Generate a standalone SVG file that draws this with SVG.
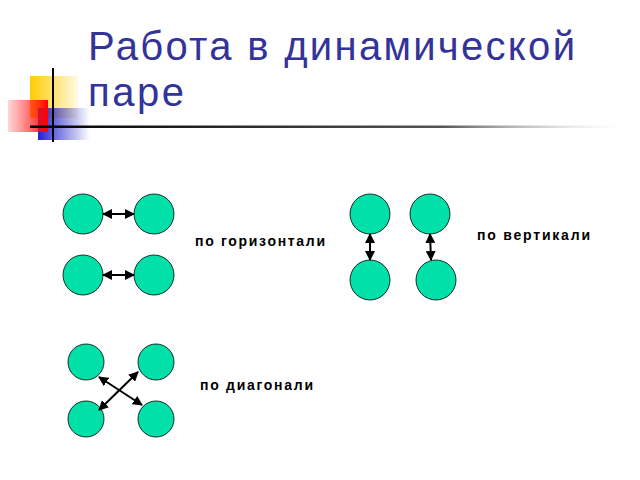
<svg xmlns="http://www.w3.org/2000/svg" width="640" height="480" viewBox="0 0 640 480">
<defs>
<linearGradient id="gy" x1="0" x2="1"><stop offset="0" stop-color="#ffcc00"/><stop offset="1" stop-color="#ffcc00" stop-opacity="0.1"/></linearGradient>
<linearGradient id="gr" x1="0" x2="1"><stop offset="0" stop-color="#ff3333" stop-opacity="0.2"/><stop offset="1" stop-color="#ff0000"/></linearGradient>
<linearGradient id="gb" x1="0" x2="1"><stop offset="0" stop-color="#2222cc"/><stop offset="1" stop-color="#2222cc" stop-opacity="0"/></linearGradient>
<linearGradient id="gl" x1="0" x2="1"><stop offset="0" stop-color="#000"/><stop offset="0.7" stop-color="#555"/><stop offset="1" stop-color="#ccc" stop-opacity="0"/></linearGradient>
<marker id="a" viewBox="0 0 10 10" refX="9" refY="5" markerWidth="5" markerHeight="5" orient="auto-start-reverse"><path d="M0,0L10,5L0,10z" fill="#000"/></marker>
</defs>
<style>
.c{fill:#00e0a8;stroke:#000;stroke-width:0.8}
.t{font-family:"Liberation Sans",Arial,sans-serif;font-size:14px;font-weight:bold;fill:#000}
.k{stroke:#000;stroke-width:2;fill:none;marker-start:url(#a);marker-end:url(#a)}
</style>
<rect x="30" y="76" width="48" height="42" fill="url(#gy)"/>
<rect x="38" y="108" width="52" height="32" fill="url(#gb)"/>
<rect x="8" y="100" width="40" height="32" fill="url(#gr)"/>
<line x1="53" y1="68" x2="53" y2="142" stroke="#000" stroke-width="2"/>
<rect x="30" y="125.5" width="590" height="2.5" fill="url(#gl)"/>
<g id="title" font-family="'Liberation Sans',Arial,sans-serif" font-size="40" fill="#333399">
<text x="88" y="60" textLength="487" lengthAdjust="spacing">Работа в динамической</text>
<text x="88" y="106" textLength="96" lengthAdjust="spacing">паре</text>
</g>
<g id="horiz"><circle class="c" cx="83" cy="214" r="20"/><circle class="c" cx="154" cy="214" r="20"/><circle class="c" cx="83" cy="275" r="20"/><circle class="c" cx="154" cy="275" r="20"/><text class="t" x="195" y="246" textLength="130">по горизонтали</text></g>
<g id="vert"><circle class="c" cx="370" cy="214" r="20"/><circle class="c" cx="430" cy="214" r="20"/><circle class="c" cx="370" cy="280" r="20"/><circle class="c" cx="436" cy="280" r="20"/><text class="t" x="477" y="240" textLength="113">по вертикали</text></g>
<g id="diag"><circle class="c" cx="86" cy="362" r="18"/><circle class="c" cx="156" cy="362" r="18"/><circle class="c" cx="86" cy="419" r="18"/><circle class="c" cx="156" cy="419" r="18"/><text class="t" x="200" y="390" textLength="113">по диагонали</text></g>
<g id="connectors">
<line class="k" x1="103" y1="214" x2="134" y2="214"/>
<line class="k" x1="103" y1="275" x2="134" y2="275"/>
<line class="k" x1="370" y1="234" x2="370" y2="260"/>
<line class="k" x1="430" y1="234" x2="431" y2="260"/>
<line class="k" x1="99" y1="377" x2="142" y2="405"/>
<line class="k" x1="138" y1="372" x2="99" y2="410"/>
</g>
</svg>
